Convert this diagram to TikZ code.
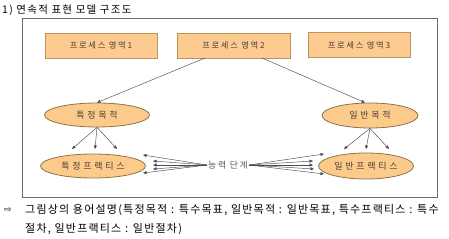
\documentclass[tikz,border=0pt]{standalone}
\usepackage{fontspec}
\setmainfont{Noto Sans CJK KR}
\newfontfamily\kr[LetterSpace=11]{Noto Sans CJK KR}
\newfontfamily\krt[LetterSpace=12]{Noto Sans CJK KR}
\newfontfamily\krsp[LetterSpace=20]{Noto Sans CJK KR}
\newfontfamily\krel[LetterSpace=30]{Noto Sans CJK KR}
\newfontfamily\dejavu{DejaVu Sans}
\usetikzlibrary{arrows.meta,shapes.geometric}
\definecolor{boxfill}{HTML}{FDCA90}
\definecolor{boxline}{HTML}{B89660}
\definecolor{ellfill}{HTML}{FCCB8C}
\definecolor{ellline}{HTML}{8C7448}
\definecolor{txtc}{HTML}{4A4038}
\definecolor{framec}{HTML}{6E6E6E}
\begin{document}
\begin{tikzpicture}[x=1pt,y=-1pt,
  areabox/.style={draw=boxline,fill=boxfill,line width=0.8pt,minimum width=112pt,minimum height=25pt,inner sep=0pt,font=\krsp\fontsize{8.3}{9}\selectfont,text=txtc},
  goal/.style={ellipse,draw=ellline,fill=ellfill,line width=0.8pt,inner sep=0pt,font=\krel\fontsize{9}{10}\selectfont,text=txtc},
  arr/.style={draw=black!70,line width=0.45pt,-{Triangle[length=3.5pt,width=3pt]}},
  plain/.style={font=\kr\fontsize{11}{13}\selectfont,text=black,inner sep=0pt,anchor=west}]
\useasboundingbox (0,0) rectangle (449,238);
\fill[white] (0,0) rectangle (449,238);
\node[plain,font=\krt\fontsize{10.5}{12}\selectfont] (title) at (2,10) {1) 연속적 표현 모델 구조도};
\node[draw=framec,line width=0.9pt,minimum width=415pt,minimum height=179pt,inner sep=0pt] (frame) at (229.5,107.5) {};
\node[areabox] (p1) at (101,45.5) {프로세스 영역1};
\node[areabox,minimum width=113pt] (p2) at (233.5,45.5) {프로세스 영역2};
\node[areabox,minimum width=102pt] (p3) at (359,45) {프로세스 영역3};
\node[goal,minimum width=105pt,minimum height=24pt] (sg) at (97,115) {특정목적};
\node[goal,minimum width=96pt,minimum height=25pt] (gg) at (370,115.5) {일반목적};
\node[goal,minimum width=105pt,minimum height=24pt] (sp) at (93,166) {특정프랙티스};
\node[goal,minimum width=95pt,minimum height=26pt] (gp) at (366,166) {일반프랙티스};
\node[font=\krsp\fontsize{8.8}{10}\selectfont,text=black!65,inner sep=1pt] (cap) at (228,165) {능력 단계};
% process area 2 to goals
\coordinate (p2l) at (205,58);
\coordinate (p2r) at (262,58);
\draw[arr] (p2l) -- (sg.north);
\draw[arr] (p2r) -- ([xshift=-5pt]gg.north);
% goals to practices
\coordinate (sa) at (72,149); \coordinate (sb) at (95,149); \coordinate (sc) at (117,149);
\draw[arr] (sg.south) -- (sa);
\draw[arr] (sg.south) -- (sb);
\draw[arr] (sg.south) -- (sc);
\coordinate (ga) at (344,149); \coordinate (gb) at (366,149); \coordinate (gc) at (389,149);
\draw[arr] (gg.south) -- (ga);
\draw[arr] (gg.south) -- (gb);
\draw[arr] (gg.south) -- (gc);
% fans
\coordinate (L1) at (143,155); \coordinate (L2) at (153,161); \coordinate (L3) at (153,165);
\coordinate (L4) at (153,169); \coordinate (L5) at (143,173);
\foreach \c in {L1,L2,L3,L4,L5} \draw[arr] (cap.west) -- (\c);
\coordinate (R1) at (324,154); \coordinate (R2) at (313,161); \coordinate (R3) at (313,165);
\coordinate (R4) at (314,169); \coordinate (R5) at (324,174);
\foreach \c in {R1,R2,R3,R4,R5} \draw[arr] (cap.east) -- (\c);
% bottom text
\node[font=\dejavu\fontsize{9}{11}\selectfont,inner sep=0pt] (sym) at (8,210) {⇨};
\node[plain] (l1) at (25,210) {그림상의 용어설명(특정목적 : 특수목표, 일반목적 : 일반목표, 특수프랙티스 : 특수};
\node[plain] (l2) at (25,229) {절차, 일반프랙티스 : 일반절차)};
\end{tikzpicture}
\end{document}
